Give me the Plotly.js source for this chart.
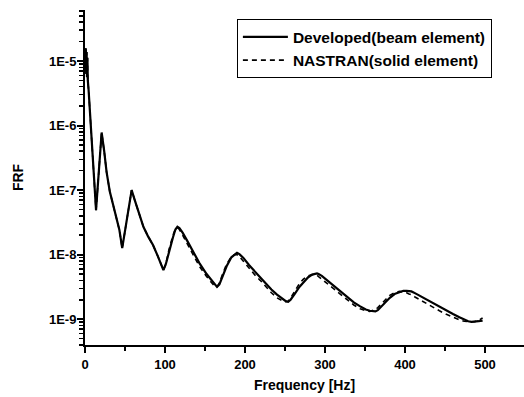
<!DOCTYPE html>
<html>
<head>
<meta charset="utf-8">
<script src="https://cdn.plot.ly/plotly-3.0.1.min.js"></script>
<style>html,body{margin:0;padding:0;background:#fff;}#chart{width:524px;height:397px;}</style>
</head>
<body>
<div id="chart"></div>
<script>
// Frequency [Hz] and FRF values
const devFreq = [0.5,1,1.5,2,2.5,3,3.5,4.5,13.8,20.8,24,27,31,35,39.6,43,46.5,52,58.3,62,67,73,79,85,91,95,98,101,105,110,113,115.5,118,122,128,135,143,152,158,162,165,168,172,177,183,187,190,193,198,205,212,219,226,233,240,246,251,254,257,262,268,273,279,284,288,290,292,296,302,310,319,328,336,344,351,356,360,363,366,370,375,381,387,393,398,402,405,408,413,420,428,435,443,451,460,468,474,479,483,487,492,497];
const devFRF = [1.2e-5,1.58e-5,6.3e-6,1.38e-5,5.6e-6,1.12e-5,5.0e-6,3.55e-6,4.9e-8,7.8e-7,4.0e-7,1.9e-7,9.5e-8,6.0e-8,3.9e-8,2.4e-8,1.26e-8,3.5e-8,1.0e-7,7.1e-8,4.5e-8,2.7e-8,1.9e-8,1.41e-8,9.5e-9,6.9e-9,5.75e-9,7.1e-9,1.12e-8,1.86e-8,2.45e-8,2.7e-8,2.57e-8,2.19e-8,1.62e-8,1.10e-8,7.4e-9,5.0e-9,4.0e-9,3.39e-9,3.16e-9,3.47e-9,4.68e-9,6.6e-9,9.1e-9,1.02e-8,1.07e-8,1.02e-8,8.9e-9,6.9e-9,5.5e-9,4.47e-9,3.55e-9,2.88e-9,2.4e-9,2.09e-9,1.9e-9,1.86e-9,2.0e-9,2.45e-9,3.16e-9,3.7e-9,4.47e-9,4.9e-9,5.1e-9,5.1e-9,5.0e-9,4.68e-9,4.07e-9,3.39e-9,2.75e-9,2.19e-9,1.82e-9,1.58e-9,1.41e-9,1.35e-9,1.32e-9,1.32e-9,1.38e-9,1.55e-9,1.82e-9,2.14e-9,2.45e-9,2.63e-9,2.75e-9,2.75e-9,2.75e-9,2.69e-9,2.51e-9,2.24e-9,2.0e-9,1.78e-9,1.58e-9,1.38e-9,1.2e-9,1.07e-9,9.8e-10,9.3e-10,9.1e-10,9.1e-10,9.3e-10,9.5e-10];

const nasFreq = [0.5,1,1.5,2,2.5,3,3.5,4.5,13.8,20.8,24,27,31,35,39.6,43,46.5,52,58.3,62,67,73,79,85,91,95,98,101,105,110,113,115.5,118,122,128,135,143,152,158,162,165,168,172,177,183,187,190,193,198,205,212,219,226,233,240,246,251,254,257,262,268,273,279,284,288,290,292,296,302,310,319,328,336,344,351,356,360,363,366,370,375,381,387,393,398,402,405,408,413,420,428,435,443,451,460,468,474,479,483,487,492,497];
const nasFRF = [1.2e-5,1.58e-5,6.3e-6,1.38e-5,5.6e-6,1.12e-5,5.0e-6,3.55e-6,4.9e-8,7.8e-7,4.0e-7,1.9e-7,9.5e-8,6.0e-8,3.9e-8,2.4e-8,1.26e-8,3.5e-8,1.0e-7,7.1e-8,4.5e-8,2.7e-8,1.9e-8,1.41e-8,9.5e-9,6.9e-9,5.75e-9,7.1e-9,1.2e-8,2.0e-8,2.51e-8,2.63e-8,2.45e-8,2.0e-8,1.45e-8,9.8e-9,6.6e-9,4.57e-9,3.63e-9,3.24e-9,3.16e-9,3.63e-9,5.0e-9,7.1e-9,9.3e-9,1.0e-8,1.0e-8,9.3e-9,7.9e-9,6.2e-9,4.9e-9,4.0e-9,3.16e-9,2.57e-9,2.14e-9,1.95e-9,1.86e-9,1.9e-9,2.14e-9,2.75e-9,3.55e-9,4.17e-9,4.68e-9,4.9e-9,4.9e-9,4.8e-9,4.57e-9,4.17e-9,3.55e-9,2.95e-9,2.4e-9,1.95e-9,1.66e-9,1.45e-9,1.35e-9,1.32e-9,1.35e-9,1.41e-9,1.51e-9,1.7e-9,2.0e-9,2.34e-9,2.57e-9,2.69e-9,2.63e-9,2.57e-9,2.45e-9,2.4e-9,2.19e-9,1.95e-9,1.7e-9,1.51e-9,1.35e-9,1.2e-9,1.07e-9,9.8e-10,9.3e-10,9.1e-10,9.1e-10,9.1e-10,9.5e-10,1.05e-9];

const seriesNames = ['Developed(beam element)', 'NASTRAN(solid element)'];
const yDecades = [1e-10, 1e-9, 1e-8, 1e-7, 1e-6, 1e-5];
const yDecadeText = ['', '1E-9', '1E-8', '1E-7', '1E-6', '1E-5'];
const yMantissa = [1, 2, 3, 4, 5, 6, 7, 8, 9];
const xTickVals = [0, 100, 200, 300, 400, 500];

// all y tick positions (decades labelled, intermediate ones as unlabeled small ticks)
const yTickVals = [], yTickText = [];
yDecades.forEach((d, i) => yMantissa.forEach(m => {
  yTickVals.push(m * d);
  yTickText.push(m === 1 ? yDecadeText[i] : '');
}));

const FONT = 'Liberation Sans, Arial, sans-serif';
const Y_RANGE = [-9.40, -4.21];

const traces = [
  {x: devFreq, y: devFRF, name: seriesNames[0], type: 'scatter', mode: 'lines',
   line: {color: '#000', width: 2.2}},
  {x: nasFreq, y: nasFRF, name: seriesNames[1], type: 'scatter', mode: 'lines',
   line: {color: '#000', width: 1.6, dash: '5px,4px'}},
  {x: [devFreq[0]], y: [devFRF[0]], yaxis: 'y2', type: 'scatter', mode: 'lines',
   showlegend: false, hoverinfo: 'skip', line: {color: 'rgba(0,0,0,0)'}}
];

const layout = {
  width: 524, height: 397,
  margin: {l: 85, r: 0, t: 10, b: 52},
  paper_bgcolor: '#fff', plot_bgcolor: '#fff',
  font: {family: FONT, color: '#000'},
  showlegend: true,
  legend: {
    x: 0.346, y: 0.972, xanchor: 'left', yanchor: 'top',
    bgcolor: '#fff', bordercolor: '#000', borderwidth: 1,
    font: {family: FONT, size: 15.5, weight: 'bold', color: '#000'},
    itemwidth: 45, tracegroupgap: 0
  },
  xaxis: {
    range: [0, 548.75],
    tickvals: xTickVals,
    ticks: 'outside', ticklen: 6, tickwidth: 2, tickcolor: '#000',
    minor: {dtick: 50, tick0: 0, ticks: 'outside', ticklen: 4, tickwidth: 1.5, tickcolor: '#000'},
    showline: true, linecolor: '#000', linewidth: 2,
    showgrid: false, zeroline: false,
    tickfont: {family: FONT, size: 13, weight: 'bold'},
    title: {text: 'Frequency [Hz]', font: {family: FONT, size: 14, weight: 'bold'}, standoff: 10}
  },
  yaxis: {
    type: 'log',
    range: Y_RANGE,
    tickmode: 'array', tickvals: yTickVals, ticktext: yTickText,
    ticks: 'outside', ticklen: 4, tickwidth: 1.5, tickcolor: '#000',
    showline: true, linecolor: '#000', linewidth: 2,
    showgrid: false, zeroline: false,
    tickfont: {family: FONT, size: 13, weight: 'bold'},
    title: {text: 'FRF', font: {family: FONT, size: 14, weight: 'bold'}, standoff: 22}
  },
  yaxis2: {
    type: 'log',
    range: Y_RANGE,
    overlaying: 'y', side: 'left', anchor: 'x',
    tickmode: 'array', tickvals: yDecades, ticktext: yDecades.map(() => ''),
    ticks: 'outside', ticklen: 7, tickwidth: 2, tickcolor: '#000',
    showticklabels: false, showline: false, showgrid: false, zeroline: false
  }
};

Plotly.newPlot('chart', traces, layout, {displayModeBar: false, staticPlot: true});
</script>
</body>
</html>
